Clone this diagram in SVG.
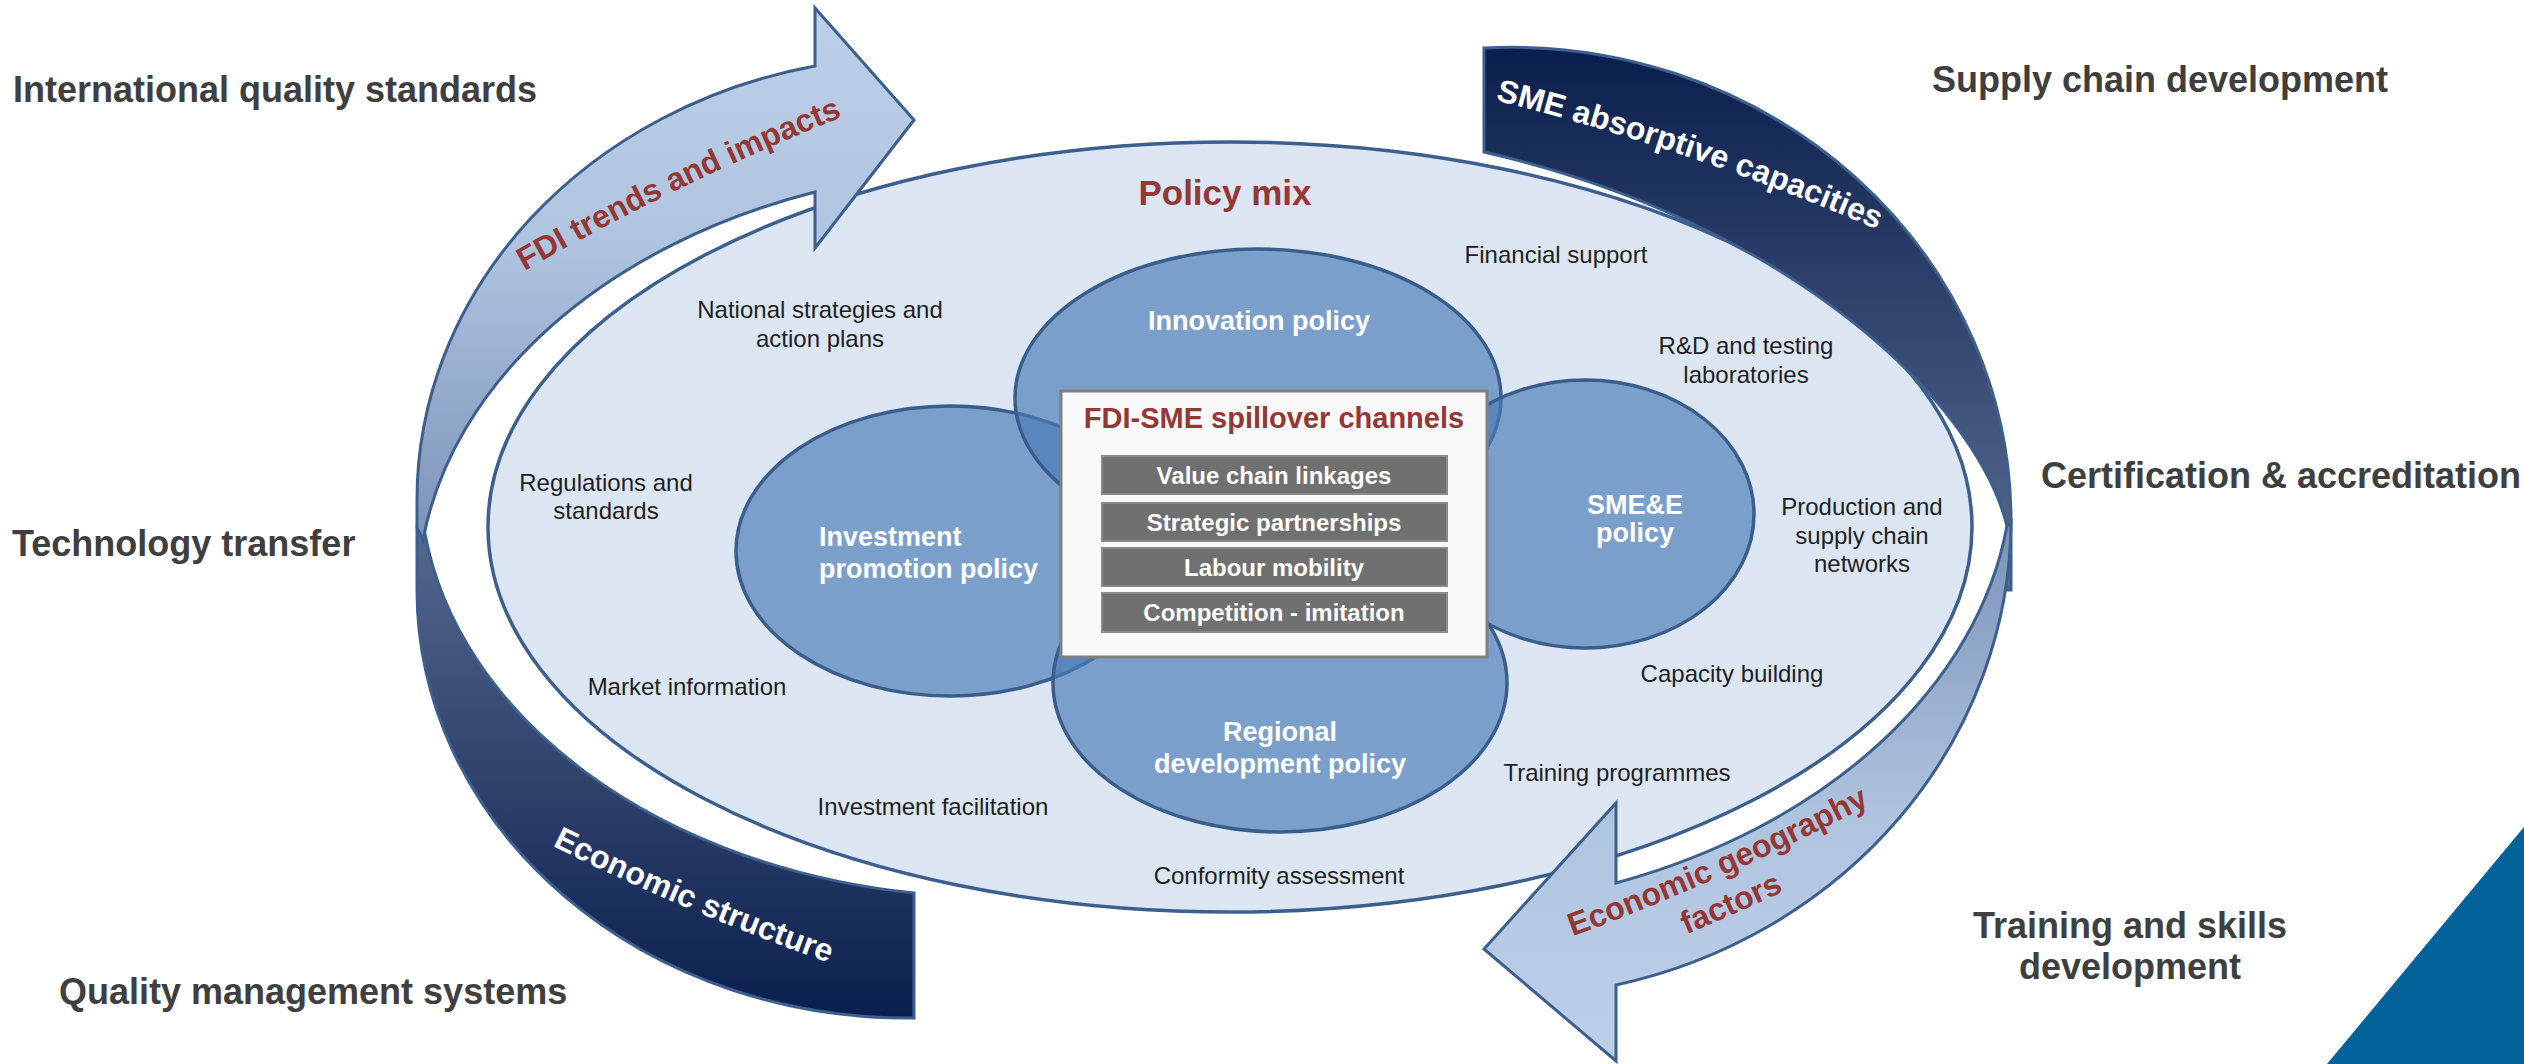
<svg xmlns="http://www.w3.org/2000/svg" width="2524" height="1064" viewBox="0 0 2524 1064">
<defs>
<linearGradient id="gFdi" gradientUnits="userSpaceOnUse" x1="0" y1="0" x2="0" y2="545">
<stop offset="0" stop-color="#bdd0e8"/><stop offset="0.45" stop-color="#afc4df"/><stop offset="1" stop-color="#7b91b8"/>
</linearGradient>
<linearGradient id="gEgf" gradientUnits="userSpaceOnUse" x1="0" y1="520" x2="0" y2="1064">
<stop offset="0" stop-color="#7b91b8"/><stop offset="0.55" stop-color="#afc4df"/><stop offset="1" stop-color="#bdd0e8"/>
</linearGradient>
<linearGradient id="gEco" gradientUnits="userSpaceOnUse" x1="0" y1="500" x2="0" y2="1020">
<stop offset="0" stop-color="#5a6c91"/><stop offset="1" stop-color="#0a1e4d"/>
</linearGradient>
<linearGradient id="gSme" gradientUnits="userSpaceOnUse" x1="0" y1="45" x2="0" y2="590">
<stop offset="0" stop-color="#0a1e4d"/><stop offset="1" stop-color="#5a6c91"/>
</linearGradient>
<path id="tpFdi" d="M 487,293 A 2500 2500 0 0 1 883,101"/>
<path id="tpSme" d="M 1470,94 A 2500 2500 0 0 1 1901,240"/>
<path id="tpEco" d="M 490,814 A 2500 2500 0 0 0 895,985"/>
<path id="tpEgf1" d="M 1537,949 A 2500 2500 0 0 0 1903,787"/>
<path id="tpEgf2" d="M 1549,987 A 2500 2500 0 0 0 1915,825"/>
<style>
.ring{stroke:#3c5f8e;stroke-width:3;stroke-linejoin:miter}
.pol{fill:#4a7cb8;fill-opacity:0.67;stroke:#3a5d8c;stroke-width:3.5}
.f{font-family:"Liberation Sans",Arial,sans-serif}
.lbl{font-size:24px;fill:#1e1e1e;text-anchor:middle}
.out{font-size:36px;font-weight:bold;fill:#3f3f3f}
.pt{font-size:27px;font-weight:bold;fill:#ffffff;text-anchor:middle}
.ptl{font-size:27px;font-weight:bold;fill:#ffffff;text-anchor:start}
.red{fill:#953735}
.wt{fill:#ffffff}
.at{font-size:32px;font-weight:bold}
.bar{fill:#707070;stroke:#8a8a8a;stroke-width:2}
.bt{font-size:24px;font-weight:bold;fill:#ffffff;text-anchor:middle}
</style>
</defs>
<rect width="2524" height="1064" fill="#ffffff"/>

<g id="outer-labels" class="f out">
<text x="13" y="102">International quality standards</text>
<text x="12" y="556">Technology transfer</text>
<text x="59" y="1004">Quality management systems</text>
<text x="1932" y="92">Supply chain development</text>
<text x="2041" y="488">Certification &amp; accreditation</text>
<text x="2130" y="938" text-anchor="middle">Training and skills</text>
<text x="2130" y="979" text-anchor="middle">development</text>
</g>

<polygon id="corner" points="2524,827 2524,1064 2327,1064" fill="#04629b"/>

<g id="policy-mix">
<ellipse cx="1230" cy="527" rx="742" ry="385" fill="#dce6f2" stroke="#3c5f8e" stroke-width="3.5"/>
<text class="f" x="1225" y="205" font-size="35" font-weight="bold" fill="#953735" text-anchor="middle">Policy mix</text>
</g>

<g id="ring">
<g id="economic-structure">
<path class="ring" fill="url(#gEco)" d="M 425,534 L 417,528 L 417,590 A 490 428 0 0 0 914,1018 L 914,893 A 575 420 0 0 1 425,534 Z"/>
<text class="f at wt"><textPath href="#tpEco" startOffset="50%" text-anchor="middle">Economic structure</textPath></text>
</g>
<g id="sme-absorptive">
<path class="ring" fill="url(#gSme)" d="M 1484,48 A 500 473 0 0 1 2011,520 L 2011,590 L 2000,590 L 2007,526 C 1977,404 1793,223 1484,152 Z"/>
<text class="f at wt"><textPath href="#tpSme" startOffset="50%" text-anchor="middle">SME absorptive capacities</textPath></text>
</g>
<g id="fdi-trends">
<path class="ring" fill="url(#gFdi)" d="M 423,540 L 417,528 L 417,500 A 500 443 0 0 1 815,66 L 815,8 L 914,120 L 815,248 L 815,192 A 595 430 0 0 0 423,540 Z"/>
<text class="f at red" font-size="33"><textPath href="#tpFdi" startOffset="50%" text-anchor="middle">FDI trends and impacts</textPath></text>
</g>
<g id="economic-geography">
<path class="ring" fill="url(#gEgf)" d="M 2007,526 L 2011,522 A 510 478 0 0 1 1616,985 L 1616,1061 L 1484,949 L 1616,803 L 1616,883 A 610 445 0 0 0 2007,526 Z"/>
<text class="f at red"><textPath href="#tpEgf1" startOffset="50%" text-anchor="middle">Economic geography</textPath></text>
<text class="f at red"><textPath href="#tpEgf2" startOffset="50%" text-anchor="middle">factors</textPath></text>
</g>
</g>

<g id="instruments" class="f lbl">
<text x="820" y="318">National strategies and</text>
<text x="820" y="347">action plans</text>
<text x="606" y="491">Regulations and</text>
<text x="606" y="519">standards</text>
<text x="687" y="695">Market information</text>
<text x="933" y="815">Investment facilitation</text>
<text x="1279" y="884">Conformity assessment</text>
<text x="1617" y="781">Training programmes</text>
<text x="1732" y="682">Capacity building</text>
<text x="1862" y="515">Production and</text>
<text x="1862" y="544">supply chain</text>
<text x="1862" y="572">networks</text>
<text x="1746" y="354">R&amp;D and testing</text>
<text x="1746" y="383">laboratories</text>
<text x="1556" y="263">Financial support</text>
</g>

<g id="investment-promotion">
<ellipse class="pol" cx="950" cy="551" rx="214" ry="145"/>
<text class="f ptl" x="819" y="546">Investment</text>
<text class="f ptl" x="819" y="578">promotion policy</text>
</g>
<g id="innovation">
<ellipse class="pol" cx="1258" cy="398" rx="243" ry="149"/>
<text class="f pt" x="1259" y="330">Innovation policy</text>
</g>
<g id="regional">
<ellipse class="pol" cx="1280" cy="683" rx="227" ry="149"/>
<text class="f pt" x="1280" y="741">Regional</text>
<text class="f pt" x="1280" y="773">development policy</text>
</g>
<g id="smee">
<ellipse class="pol" cx="1585" cy="514" rx="169" ry="134"/>
<text class="f pt" x="1635" y="514">SME&amp;E</text>
<text class="f pt" x="1635" y="542">policy</text>
</g>

<g id="spillover">
<rect x="1061" y="391" width="426" height="266" fill="#f9f9f9" stroke="#808080" stroke-width="3"/>
<text class="f" x="1274" y="428" font-size="29" font-weight="bold" fill="#953735" text-anchor="middle">FDI-SME spillover channels</text>
<rect class="bar" x="1102" y="456" width="345" height="38"/>
<rect class="bar" x="1102" y="503" width="345" height="38"/>
<rect class="bar" x="1102" y="548" width="345" height="38"/>
<rect class="bar" x="1102" y="593" width="345" height="39"/>
<text class="f bt" x="1274" y="484">Value chain linkages</text>
<text class="f bt" x="1274" y="531">Strategic partnerships</text>
<text class="f bt" x="1274" y="576">Labour mobility</text>
<text class="f bt" x="1274" y="621">Competition - imitation</text>
</g>
</svg>
